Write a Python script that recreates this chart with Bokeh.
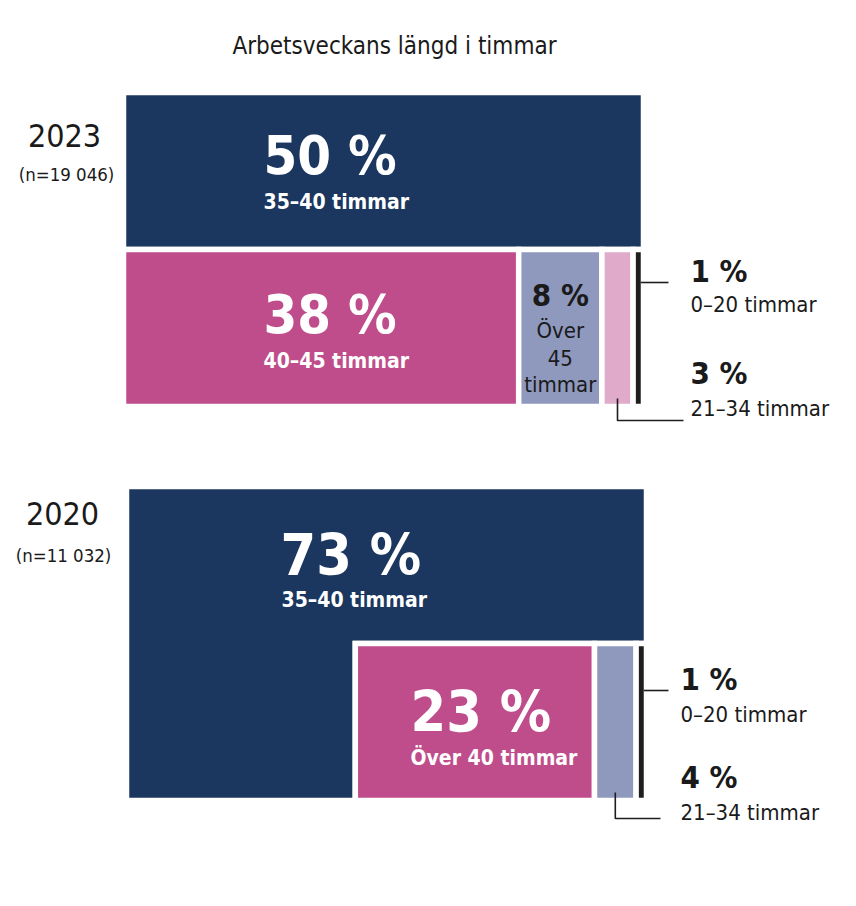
from bokeh.plotting import figure
from bokeh.models import Range1d
from bokeh.embed import file_html
from bokeh.resources import INLINE
from bokeh.core.properties import value

# ---------------- data ----------------
title_text = "Arbetsveckans längd i timmar"
years = ["2023", "2020"]
n_labels = ["(n=19 046)", "(n=11 032)"]

cats_2023 = ["35–40 timmar", "40–45 timmar", "Över 45 timmar", "21–34 timmar", "0–20 timmar"]
vals_2023 = [50, 38, 8, 3, 1]

cats_2020 = ["35–40 timmar", "Över 40 timmar", "21–34 timmar", "0–20 timmar"]
vals_2020 = [73, 23, 4, 1]

# ---------------- style ----------------
FONT = "DejaVu Sans Condensed"
DARK = "#1c375f"
MAGENTA = "#bf4d8b"
LAVENDER = "#8f98bd"
LIGHTPINK = "#e0aacb"
BLACK = "#1e1e1e"
TXT = "#1a1a1a"

colors_2023 = [DARK, MAGENTA, LAVENDER, LIGHTPINK, BLACK]
colors_2020 = [DARK, MAGENTA, LAVENDER, BLACK]

p = figure(width=840, height=880, output_backend="svg", toolbar_location=None,
           x_range=Range1d(0, 840), y_range=Range1d(880, 0), min_border=0)
p.xaxis.visible = False
p.yaxis.visible = False
p.xgrid.visible = False
p.ygrid.visible = False
p.outline_line_color = None
p.background_fill_color = "white"


def layout_block(vals, x0, y0, W, H):
    """First item fills the block minus a bottom-right row holding the rest."""
    h = H / 2.0
    rest = vals[1:]
    row_w = min(W, sum(rest) / 100.0 * W * H / h)
    xs, ys = [], []
    if row_w >= W:
        xs.append([x0, x0 + W, x0 + W, x0])
        ys.append([y0, y0, y0 + H - h, y0 + H - h])
    else:
        xr = x0 + W - row_w
        xs.append([x0, x0 + W, x0 + W, xr, xr, x0])
        ys.append([y0, y0, y0 + H - h, y0 + H - h, y0 + H, y0 + H])
    cx = x0 + W - row_w
    rects = []
    for v in rest:
        w = v / sum(rest) * row_w
        xs.append([cx, cx + w, cx + w, cx])
        ys.append([y0 + H - h, y0 + H - h, y0 + H, y0 + H])
        rects.append((cx, cx + w))
        cx += w
    return xs, ys, rects, y0 + H - h, y0 + H


def txt(x, y, s, size, color=TXT, bold=False, align="left"):
    p.text(x=[x], y=[y], text=[s], text_font=value(FONT), text_font_size=f"{size}px",
           text_color=color, text_font_style="bold" if bold else "normal",
           text_align=align, text_baseline="middle")


def line(xs, ys):
    p.line(x=xs, y=ys, line_color=BLACK, line_width=1.6)


GAP = 5.5
W, H = 520, 314
BIG1, BIG2, SUB, MID, SMALL = 54, 57, 21, 31, 22

# title
txt(394, 45, title_text, 24, align="center")

# ---- 2023 ----
x0, y0 = 123, 92
xs, ys, rects, rt, rb = layout_block(vals_2023, x0, y0, W, H)
p.patches(xs=xs, ys=ys, fill_color=colors_2023, line_color="white", line_width=GAP,
          line_join="miter")
txt(64, 135, years[0], 32, align="center")
txt(66, 174, n_labels[0], 18.5, align="center")
txt(263, 155, f"{vals_2023[0]} %", BIG1, color="white", bold=True)
txt(263, 201, cats_2023[0], SUB, color="white", bold=True)
txt(263, 314, f"{vals_2023[1]} %", BIG1, color="white", bold=True)
txt(263, 360, cats_2023[1], SUB, color="white", bold=True)
c8 = (rects[1][0] + rects[1][1]) / 2
txt(c8, 294, f"{vals_2023[2]} %", MID, bold=True, align="center")
for i, s in enumerate(["Över", "45", "timmar"]):
    txt(c8, 330 + 27 * i, s, SMALL, align="center")
bx = rects[3][1] - GAP / 2
line([bx, 668], [282, 282])
px = (rects[2][0] + rects[2][1]) / 2
line([px, px, 683], [rb - 8, 420, 420])
txt(690, 270, f"{vals_2023[4]} %", MID, bold=True)
txt(690, 304, cats_2023[4], SMALL)
txt(690, 372, f"{vals_2023[3]} %", MID, bold=True)
txt(690, 408, cats_2023[3], SMALL)

# ---- 2020 ----
x0, y0 = 126, 486
xs, ys, rects, rt, rb = layout_block(vals_2020, x0, y0, W, H)
p.patches(xs=xs, ys=ys, fill_color=colors_2020, line_color="white", line_width=GAP,
          line_join="miter")
txt(62, 513, years[1], 32, align="center")
txt(63, 555, n_labels[1], 18.5, align="center")
txt(280, 554, f"{vals_2020[0]} %", BIG2, color="white", bold=True)
txt(281, 599, cats_2020[0], SUB, color="white", bold=True)
txt(410, 711, f"{vals_2020[1]} %", BIG2, color="white", bold=True)
txt(410, 757, cats_2020[1], SUB, color="white", bold=True)
bx = rects[2][1] - GAP / 2
line([bx, 668], [690, 690])
px = (rects[1][0] + rects[1][1]) / 2
line([px, px, 660], [rb - 8, 818, 818])
txt(680, 678, f"{vals_2020[3]} %", MID, bold=True)
txt(680, 714, cats_2020[3], SMALL)
txt(680, 776, f"{vals_2020[2]} %", MID, bold=True)
txt(680, 812, cats_2020[2], SMALL)

open("out.html", "w").write(file_html(p, INLINE))
